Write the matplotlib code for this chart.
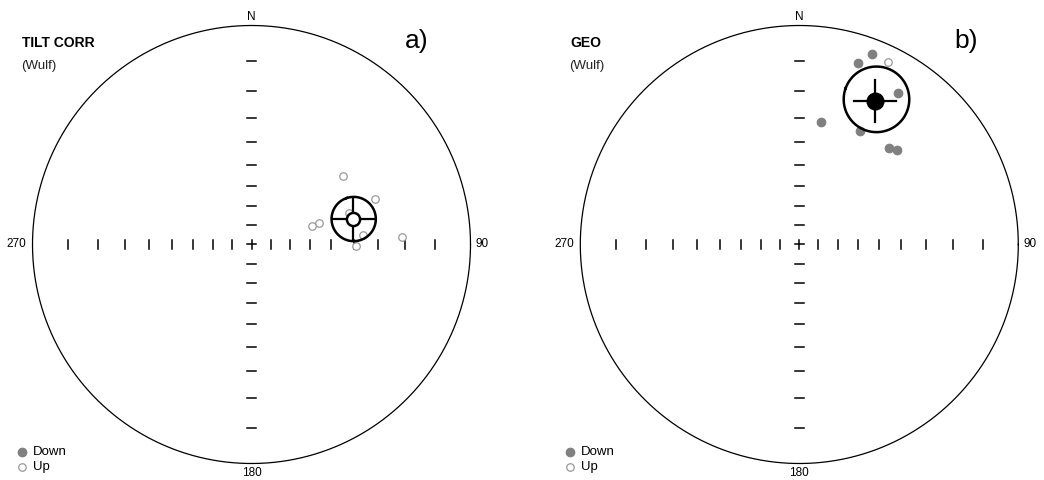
import numpy as np
import matplotlib
matplotlib.use("Agg")
import matplotlib.pyplot as plt

plt.rcParams["font.family"] = ["Liberation Sans", "DejaVu Sans"]

# ---- data: declination / inclination (deg), negative inc = upper hemisphere
a_dec = [53, 70, 72, 72, 73, 85, 91, 87]
a_inc = [-35, -28, -40, -54, -58, -36, -39, -21]
a_mean = (76, -39)
a_a95 = 9.4

b_dec = [21, 18, 26, 33, 10, 28, 43, 46]
b_inc = [4, 8, -4.4, 11, 31, 29, 28, 26.5]
b_mean = (28, 17)
b_a95 = 11.0

panels = [
    ("TILT CORR", "a)", a_dec, a_inc, a_mean, a_a95),
    ("GEO", "b)", b_dec, b_inc, b_mean, b_a95),
]

tick_incs = np.arange(10, 90, 10)
R_PX = 219.0
GRAY = "#808080"


def project(dec, inc):
    dec = np.radians(np.asarray(dec, float))
    r = np.tan(np.radians(90 - np.abs(np.asarray(inc, float))) / 2)
    return r * np.sin(dec), r * np.cos(dec)


def dir2vec(dec, inc):
    d, i = np.radians(dec), np.radians(inc)
    return np.array([np.cos(i) * np.cos(d), np.cos(i) * np.sin(d), np.sin(i)])


def small_circle(dec, inc, a95, n=181):
    m = dir2vec(dec, inc)
    u = np.cross(m, [0, 0, 1.0])
    u /= np.linalg.norm(u)
    w = np.cross(m, u)
    t = np.linspace(0, 2 * np.pi, n)
    a = np.radians(a95)
    v = (np.cos(a) * m[:, None]
         + np.sin(a) * (np.cos(t) * u[:, None] + np.sin(t) * w[:, None]))
    d = np.degrees(np.arctan2(v[1], v[0]))
    i = np.degrees(np.arcsin(np.clip(v[2], -1, 1)))
    return project(d, i)


fig = plt.figure(figsize=(10.44, 4.8), dpi=100)
centers = [(251.5, 244.5), (799.3, 244.5)]

for k, (title, tag, decs, incs, mean, a95) in enumerate(panels):
    cx, cy = centers[k]
    x0 = 522 * k
    ax = fig.add_axes([x0 / 1044, 0, 522 / 1044, 1])
    ax.set_xlim((x0 - cx) / R_PX, (x0 + 522 - cx) / R_PX)
    ax.set_ylim((cy - 480) / R_PX, cy / R_PX)
    ax.axis("off")
    px = 1 / R_PX

    # primitive circle
    t = np.linspace(0, 2 * np.pi, 400)
    ax.plot(np.cos(t), np.sin(t), color="black", lw=0.9)

    # inclination ticks along the axes
    rt = np.tan(np.radians(90 - tick_incs) / 2)
    for r in rt:
        for s in (-1, 1):
            ax.plot([s * r, s * r], [-4.5 * px, 4.5 * px], color="black", lw=1.1)
            ax.plot([-4.5 * px, 4.5 * px], [s * r, s * r], color="black", lw=1.1)
    ax.plot([-4.5 * px, 4.5 * px], [0, 0], color="black", lw=1.1)
    ax.plot([0, 0], [-4.5 * px, 4.5 * px], color="black", lw=1.1)

    # data points
    decs, incs = np.array(decs), np.array(incs)
    dn = incs >= 0
    xs, ys = project(decs, incs)
    ax.plot(xs[dn], ys[dn], "o", ms=6.2, mfc=GRAY, mec=GRAY, mew=0.8, ls="none")
    ax.plot(xs[~dn], ys[~dn], "o", ms=5.4, mfc="white", mec="#999999", mew=0.9, ls="none")

    # mean with a95 cone
    scx, scy = small_circle(mean[0], mean[1], a95)
    ax.plot(scx, scy, color="black", lw=1.8)
    mx, my = project(mean[0], mean[1])
    arm = 21 * px
    ax.plot([mx - arm, mx + arm], [my, my], color="black", lw=1.6)
    ax.plot([mx, mx], [my - arm, my + arm], color="black", lw=1.6)
    if mean[1] >= 0:
        ax.plot(mx, my, "o", ms=12, mfc="black", mec="black")
    else:
        ax.plot(mx, my, "o", ms=9.5, mfc="white", mec="black", mew=1.8)

    # labels
    ax.text(0, 1.040, "N", ha="center", va="center", fontsize=8.5)
    ax.text(0, -1.042, "180", ha="center", va="center", fontsize=8.5)
    ax.text(-1.075, 0, "270", ha="center", va="center", fontsize=8.5)
    ax.text(1.025, 0, "90", ha="left", va="center", fontsize=8.5)

    lx = (x0 + 22 - cx) / R_PX if k == 0 else (x0 + 48 - cx) / R_PX
    ax.text(lx, (cy - 43) / R_PX, title, ha="left", va="center",
            fontsize=10, fontweight="bold")
    ax.text(lx - 1 * px, (cy - 66) / R_PX, "(Wulf)", ha="left", va="center",
            fontsize=9.5, color="#222222")
    tx = (417 - cx) / R_PX if k == 0 else (966 - cx) / R_PX
    ax.text(tx, (cy - 41) / R_PX, tag, ha="center", va="center", fontsize=19)

    # legend
    gx = lx
    ax.plot(gx, (cy - 451.7) / R_PX, "o", ms=6, mfc=GRAY, mec=GRAY)
    ax.plot(gx, (cy - 466.7) / R_PX, "o", ms=5.4, mfc="white", mec="#999999", mew=0.9)
    ax.text(gx + 11 * px, (cy - 452) / R_PX, "Down", ha="left", va="center", fontsize=9.5)
    ax.text(gx + 11 * px, (cy - 467) / R_PX, "Up", ha="left", va="center", fontsize=9.5)

fig.savefig("out.png", dpi=100)
